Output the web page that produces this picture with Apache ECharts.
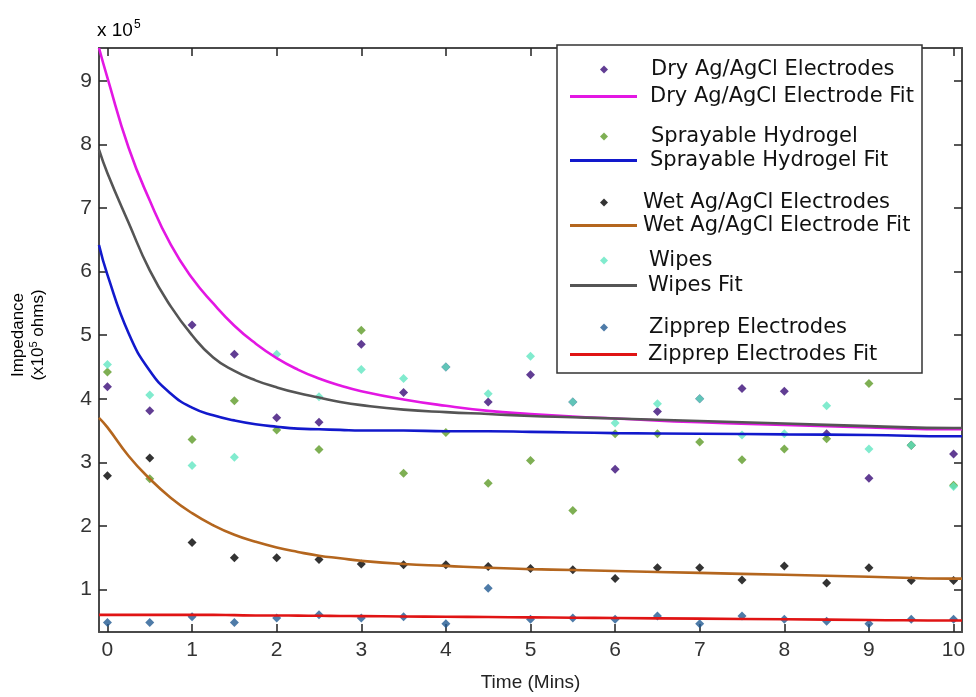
<!DOCTYPE html>
<html>
<head>
<meta charset="utf-8">
<script src="https://cdn.jsdelivr.net/npm/echarts@6/dist/echarts.min.js"></script>
<style>
  html, body { margin: 0; background: #fff; }
  #chart { width: 976px; height: 697px; }
</style>
</head>
<body>
<div id="chart"></div>
<script>
// measured points, every half minute
const times = [0, 0.5, 1, 1.5, 2, 2.5, 3, 3.5, 4, 4.5, 5, 5.5, 6, 6.5, 7, 7.5, 8, 8.5, 9, 9.5, 10];
const dryAgAgCl = [4.19, 3.81, 5.16, 4.70, 3.70, 3.63, 4.86, 4.10, 4.50, 3.95, 4.38, 3.95, 2.89, 3.80, 4.00, 4.16, 4.12, 3.45, 2.75, 3.27, 3.13];
const hydrogel = [4.42, 2.74, 3.36, 3.97, 3.51, 3.20, 5.08, 2.83, 3.47, 2.67, 3.03, 2.24, 3.45, 3.45, 3.32, 3.04, 3.21, 3.37, 4.24, 3.27, 2.64];
const wetAgAgCl = [2.79, 3.07, 1.74, 1.50, 1.50, 1.47, 1.40, 1.39, 1.39, 1.36, 1.33, 1.31, 1.17, 1.34, 1.34, 1.15, 1.37, 1.10, 1.34, 1.14, 1.14];
const wipes = [4.54, 4.06, 2.95, 3.08, 4.70, 4.03, 4.46, 4.32, 4.50, 4.08, 4.67, 3.95, 3.62, 3.92, 4.00, 3.43, 3.45, 3.89, 3.21, 3.27, 2.62];
const zipprep = [0.48, 0.48, 0.57, 0.48, 0.55, 0.60, 0.55, 0.57, 0.46, 1.02, 0.53, 0.55, 0.53, 0.58, 0.46, 0.58, 0.53, 0.50, 0.46, 0.53, 0.53];

// fit curves
const fitTimes = [-0.1, 0, 0.25, 0.5, 0.75, 1, 1.25, 1.5, 1.75, 2, 2.25, 2.5, 2.75, 3, 3.5, 4, 4.5, 5, 5.5, 6, 7, 8, 9, 10, 10.1];
const dryFit = [9.52, 9.05, 7.95, 7.12, 6.42, 5.90, 5.50, 5.15, 4.87, 4.64, 4.46, 4.32, 4.21, 4.12, 3.99, 3.89, 3.81, 3.76, 3.72, 3.69, 3.63, 3.59, 3.55, 3.52, 3.52];
const hydrogelFit = [6.42, 5.95, 5.03, 4.44, 4.08, 3.86, 3.74, 3.66, 3.60, 3.56, 3.53, 3.52, 3.51, 3.50, 3.50, 3.49, 3.49, 3.48, 3.47, 3.46, 3.45, 3.44, 3.43, 3.41, 3.41];
const wetFit = [3.70, 3.55, 3.10, 2.74, 2.44, 2.20, 2.01, 1.86, 1.75, 1.66, 1.59, 1.53, 1.49, 1.45, 1.40, 1.37, 1.34, 1.32, 1.305, 1.29, 1.26, 1.23, 1.20, 1.17, 1.17];
const wipesFit = [7.92, 7.55, 6.77, 6.02, 5.45, 5.00, 4.65, 4.44, 4.29, 4.18, 4.09, 4.02, 3.95, 3.90, 3.83, 3.79, 3.76, 3.73, 3.71, 3.69, 3.65, 3.61, 3.57, 3.54, 3.54];
const zipprepFit = [0.60, 0.60, 0.60, 0.60, 0.60, 0.60, 0.60, 0.595, 0.59, 0.59, 0.587, 0.585, 0.582, 0.58, 0.575, 0.57, 0.565, 0.56, 0.555, 0.55, 0.54, 0.53, 0.52, 0.51, 0.51];

const xTicks = [0, 1, 2, 3, 4, 5, 6, 7, 8, 9, 10];
const yTicks = [1, 2, 3, 4, 5, 6, 7, 8, 9];

const tickFont = 'Liberation Sans, Arial, sans-serif';
const legendFont = 'DejaVu Sans, Verdana, sans-serif';
const axisColor = '#4a4a4a';

function pairs(xs, ys) {
  return xs.map((x, i) => [x, ys[i]]);
}

function points(name, values, color) {
  return {
    name: name,
    type: 'scatter',
    symbol: 'diamond',
    symbolSize: 9,
    z: 2,
    itemStyle: { color: color },
    data: pairs(times, values)
  };
}

function fit(name, values, color) {
  return {
    name: name,
    type: 'line',
    symbol: 'none',
    smooth: 0.5,
    z: 3,
    lineStyle: { color: color, width: 2.6 },
    itemStyle: { color: color },
    data: pairs(fitTimes, values)
  };
}

// one legend per row so marker rows and line rows can differ
function legendRow(name, isLine, top, textPad) {
  return {
    left: isLine ? 565 : 595,
    top: top,
    itemWidth: isLine ? 67 : 8,
    itemHeight: isLine ? 3 : 8,
    icon: isLine ? 'rect' : 'diamond',
    selectedMode: false,
    z: 20,
    data: [name],
    textStyle: { fontFamily: legendFont, fontSize: 21, color: '#111', padding: [0, 0, 0, textPad] }
  };
}

function xAxisAt(position, labels) {
  return {
    type: 'value',
    position: position,
    min: -0.1,
    max: 10.1,
    axisLine: { show: true, onZero: false, lineStyle: { color: axisColor, width: 2 } },
    axisTick: { show: true, inside: true, length: 8, customValues: xTicks, lineStyle: { color: '#222', width: 1.5 } },
    axisLabel: { show: labels, customValues: xTicks, fontFamily: tickFont, fontSize: 21, color: '#333', margin: 8 },
    splitLine: { show: false }
  };
}

function yAxisAt(position, labels) {
  return {
    type: 'value',
    position: position,
    min: 0.33,
    max: 9.52,
    axisLine: { show: true, onZero: false, lineStyle: { color: axisColor, width: 2 } },
    axisTick: { show: true, inside: true, length: 8, customValues: yTicks, lineStyle: { color: '#222', width: 1.5 } },
    axisLabel: { show: labels, customValues: yTicks, fontFamily: tickFont, fontSize: 21, color: '#333', margin: 7 },
    splitLine: { show: false }
  };
}

const chart = echarts.init(document.getElementById('chart'));

const xMain = xAxisAt('bottom', true);
xMain.name = 'Time (Mins)';
xMain.nameLocation = 'middle';
xMain.nameGap = 41;
xMain.nameTextStyle = { fontFamily: tickFont, fontSize: 19, color: '#222' };

chart.setOption({
  animation: false,
  backgroundColor: '#fff',
  grid: { left: 99, top: 48, right: 14, bottom: 63 },
  xAxis: [xMain, xAxisAt('top', false)],
  yAxis: [yAxisAt('left', true), yAxisAt('right', false)],
  legend: [
    legendRow('Dry Ag/AgCl Electrodes', false, 54, 38),
    legendRow('Dry Ag/AgCl Electrode Fit', true, 81, 8),
    legendRow('Sprayable Hydrogel', false, 121, 38),
    legendRow('Sprayable Hydrogel Fit', true, 145, 8),
    legendRow('Wet Ag/AgCl Electrodes', false, 187, 30),
    legendRow('Wet Ag/AgCl Electrode Fit', true, 210, 1),
    legendRow('Wipes', false, 245, 36),
    legendRow('Wipes Fit', true, 270, 6),
    legendRow('Zipprep Electrodes', false, 312, 36),
    legendRow('Zipprep Electrodes Fit', true, 339, 6)
  ],
  graphic: [
    {
      type: 'rect',
      z: 10,
      shape: { x: 557, y: 45, width: 365, height: 328 },
      style: { fill: '#fff', stroke: '#333', lineWidth: 1.5 }
    },
    {
      type: 'text',
      x: 97,
      y: 31,
      z: 10,
      style: {
        text: '{a|x 10}{s|5}',
        verticalAlign: 'middle',
        rich: {
          a: { fontFamily: tickFont, fontSize: 19, color: '#333' },
          s: { fontFamily: tickFont, fontSize: 12, color: '#333', verticalAlign: 'top', padding: [0, 0, 12, 1] }
        }
      }
    },
    {
      type: 'text',
      x: 28,
      y: 335,
      rotation: Math.PI / 2,
      z: 10,
      style: {
        text: '{a|Impedance}\n{a|(x10}{s|5}{a| ohms)}',
        align: 'center',
        verticalAlign: 'middle',
        lineHeight: 20,
        rich: {
          a: { fontFamily: tickFont, fontSize: 17, color: '#222', lineHeight: 20 },
          s: { fontFamily: tickFont, fontSize: 11, color: '#222', verticalAlign: 'top', lineHeight: 20 }
        }
      }
    }
  ],
  series: [
    points('Dry Ag/AgCl Electrodes', dryAgAgCl, '#3a0d78'),
    fit('Dry Ag/AgCl Electrode Fit', dryFit, '#e317e3'),
    points('Sprayable Hydrogel', hydrogel, '#5e9b28'),
    fit('Sprayable Hydrogel Fit', hydrogelFit, '#1219cc'),
    points('Wet Ag/AgCl Electrodes', wetAgAgCl, '#000000'),
    fit('Wet Ag/AgCl Electrode Fit', wetFit, '#b4661e'),
    points('Wipes', wipes, '#62e6c2'),
    fit('Wipes Fit', wipesFit, '#555555'),
    points('Zipprep Electrodes', zipprep, '#225a92'),
    fit('Zipprep Electrodes Fit', zipprepFit, '#e01414')
  ]
});
</script>
</body>
</html>
